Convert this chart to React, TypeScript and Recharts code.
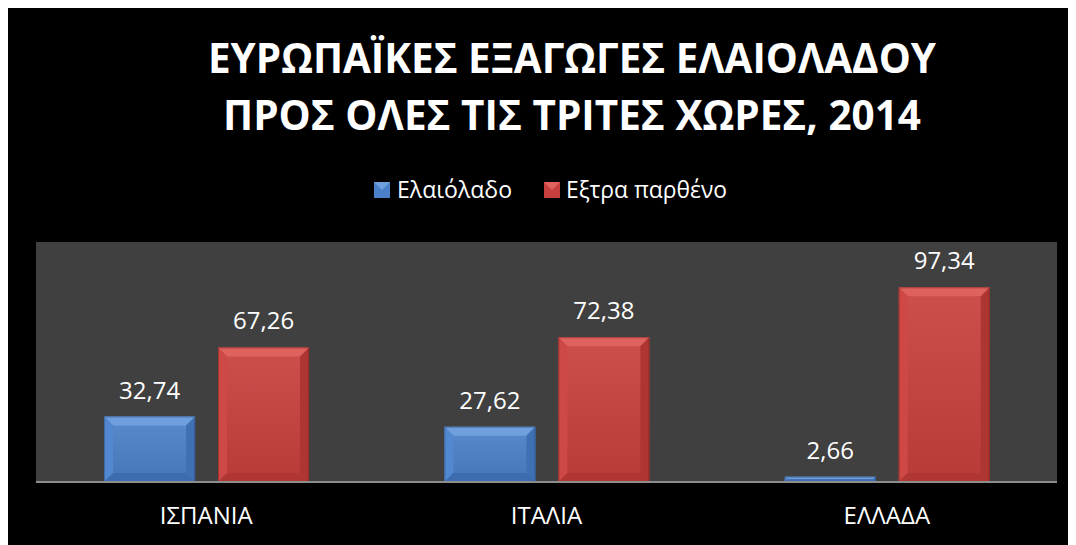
import React from "react";
import {
  BarChart,
  Bar,
  XAxis,
  YAxis,
  CartesianGrid,
  LabelList,
} from "recharts";

const countries = ["ΙΣΠΑΝΙΑ", "ΙΤΑΛΙΑ", "ΕΛΛΑΔΑ"];
const oliveOil = [32.74, 27.62, 2.66];
const extraVirgin = [67.26, 72.38, 97.34];
const seriesNames = ["Ελαιόλαδο", "Εξτρα παρθένο"];
const titleLines = [
  "ΕΥΡΩΠΑΪΚΕΣ ΕΞΑΓΩΓΕΣ ΕΛΑΙΟΛΑΔΟΥ",
  "ΠΡΟΣ ΟΛΕΣ ΤΙΣ ΤΡΙΤΕΣ ΧΩΡΕΣ, 2014",
];

const data = countries.map((name, i) => ({
  name,
  oil: oliveOil[i],
  extra: extraVirgin[i],
}));

const FONT = "'Open Sans', 'Noto Sans', sans-serif";

const BLUE = { main: "#4a80c8", top: "#6f9fdc", left: "#5288cf", right: "#3f70b3", bottom: "#3d6cae", edge: "#2a4f85" };
const RED = { main: "#c8403d", top: "#df625e", left: "#ce4946", right: "#ad3532", bottom: "#b03633", edge: "#7a2220" };

const fmt = (v: number) => v.toFixed(2).replace(".", ",");

// bevelled bar face like the Excel "bevel" effect
const makeBevel = (c: typeof BLUE, id: string) => (props: any) => {
  const { x, y, width, height } = props;
  if (!height || height <= 0) return null;
  const b = Math.min(9, height / 2, width / 2);
  const x2 = x + width;
  const y2 = y + height;
  return (
    <g>
      <defs>
        <linearGradient id={id} x1="0" y1="0" x2="0" y2="1">
          <stop offset="0%" stopColor="#ffffff" stopOpacity={0.08} />
          <stop offset="100%" stopColor="#000000" stopOpacity={0.08} />
        </linearGradient>
      </defs>
      <rect x={x} y={y} width={width} height={height} fill={c.main} />
      <rect x={x} y={y} width={width} height={height} fill={`url(#${id})`} />
      <polygon points={`${x},${y} ${x2},${y} ${x2 - b},${y + b} ${x + b},${y + b}`} fill={c.top} />
      <polygon points={`${x},${y} ${x + b},${y + b} ${x + b},${y2 - b} ${x},${y2}`} fill={c.left} />
      <polygon points={`${x2},${y} ${x2},${y2} ${x2 - b},${y2 - b} ${x2 - b},${y + b}`} fill={c.right} />
      <polygon points={`${x},${y2} ${x + b},${y2 - b} ${x2 - b},${y2 - b} ${x2},${y2}`} fill={c.bottom} />
      <rect x={x + 0.5} y={y + 0.5} width={width - 1} height={height - 1} fill="none" stroke={c.edge} strokeWidth={1} strokeOpacity={0.5} />
    </g>
  );
};

const BlueBar = makeBevel(BLUE, "gBlue");
const RedBar = makeBevel(RED, "gRed");

const LegendIcon = ({ x, c }: { x: number; c: typeof BLUE }) => (
  <g>
    <rect x={x} y={175} width={16} height={16} fill={c.main} />
    <polygon points={`${x},175 ${x + 16},175 ${x + 8},183`} fill={c.top} />
  </g>
);

export default function App() {
  return (
    <div
      style={{
        position: "relative",
        width: 1069,
        height: 538,
        margin: "-1px 0 0 -1px",
        background: "#000",
        fontFamily: FONT,
      }}
    >
      <svg
        width={1069}
        height={230}
        style={{ position: "absolute", left: 0, top: 0, pointerEvents: "none" }}
      >
        <text x={565} y={66} textAnchor="middle" fill="#fff" fontSize={42} fontWeight={700} fontFamily={FONT} textLength={728} lengthAdjust="spacingAndGlyphs">
          {titleLines[0]}
        </text>
        <text x={565} y={123} textAnchor="middle" fill="#fff" fontSize={42} fontWeight={700} fontFamily={FONT} textLength={698} lengthAdjust="spacingAndGlyphs">
          {titleLines[1]}
        </text>
        <LegendIcon x={367} c={BLUE} />
        <text x={390} y={191} fill="#fff" fontSize={23} fontFamily={FONT} textLength={115} lengthAdjust="spacingAndGlyphs">
          {seriesNames[0]}
        </text>
        <LegendIcon x={537} c={RED} />
        <text x={559} y={191} fill="#fff" fontSize={23} fontFamily={FONT} textLength={161} lengthAdjust="spacingAndGlyphs">
          {seriesNames[1]}
        </text>
      </svg>
      <BarChart
        width={1069}
        height={538}
        data={data}
        margin={{ top: 235, right: 19, left: 29, bottom: 23 }}
        barCategoryGap="20%"
        barGap={23}
      >
        <CartesianGrid fill="#404040" horizontal={false} vertical={false} />
        <XAxis
          dataKey="name"
          height={40}
          tickLine={false}
          tickSize={0}
          tickMargin={25}
          axisLine={{ stroke: "#8c8c8c", strokeWidth: 2 }}
          tick={{ fill: "#fff", fontSize: 24, fontFamily: FONT }}
        />
        <YAxis hide domain={[0, 120]} />
        <Bar dataKey="oil" name={seriesNames[0]} shape={BlueBar} isAnimationActive={false}>
          <LabelList dataKey="oil" position="top" offset={18} formatter={fmt} fill="#fff" fontSize={24} fontFamily={FONT} />
        </Bar>
        <Bar dataKey="extra" name={seriesNames[1]} shape={RedBar} isAnimationActive={false}>
          <LabelList dataKey="extra" position="top" offset={18} formatter={fmt} fill="#fff" fontSize={24} fontFamily={FONT} />
        </Bar>
      </BarChart>
    </div>
  );
}
